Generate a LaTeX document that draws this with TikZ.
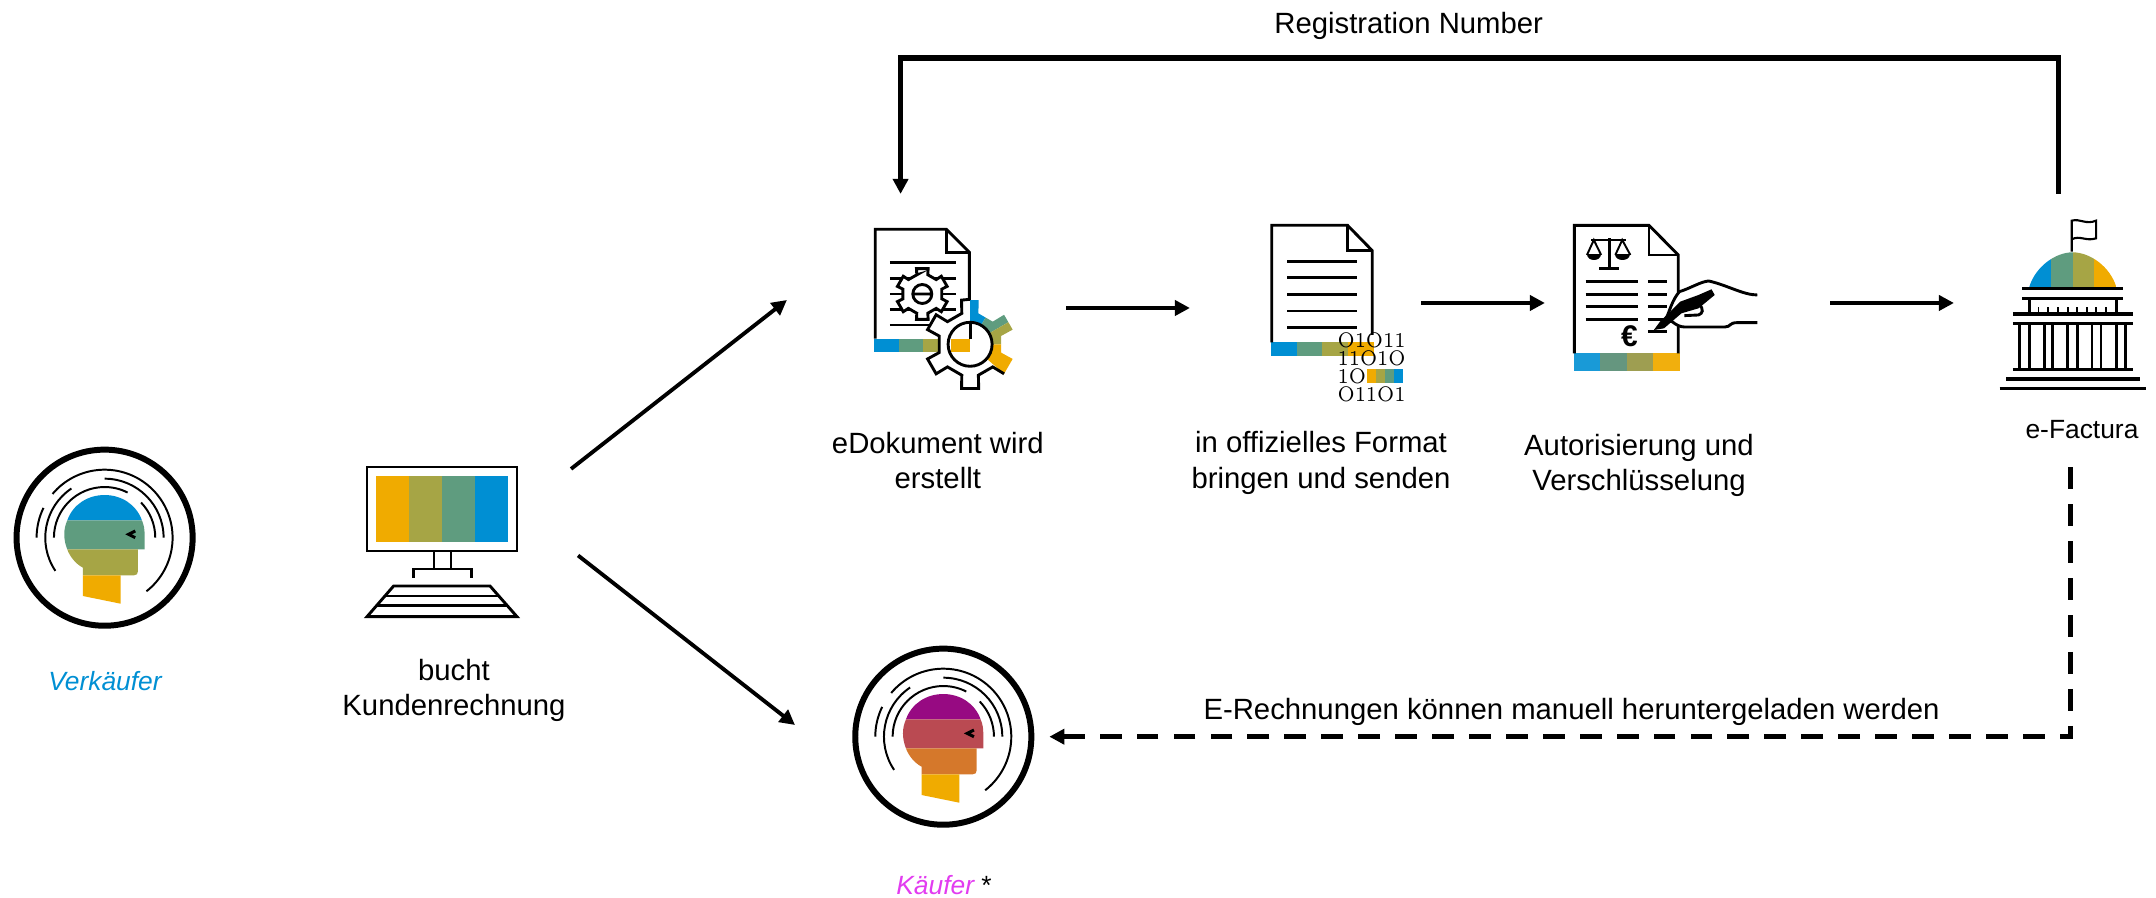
\documentclass[tikz,border=0pt]{standalone}
\usepackage{fontspec}
\setsansfont{Liberation Sans}
\usetikzlibrary{arrows.meta}
\definecolor{sapblue}{HTML}{008FD3}
\definecolor{sapgreen}{HTML}{5F9C7F}
\definecolor{sapolive}{HTML}{A6A545}
\definecolor{saporange}{HTML}{F0AB00}
\definecolor{buypurple}{HTML}{970A82}
\definecolor{buyred}{HTML}{BA4A52}
\definecolor{buyrust}{HTML}{D5782B}
\definecolor{buyerpink}{HTML}{E23CF0}
\tikzset{
    lbl/.style={font=\sffamily\fontsize{8.33}{10.1}\selectfont,align=center,inner sep=0pt},
    lblsmall/.style={font=\sffamily\fontsize{7.5}{9}\selectfont,inner sep=0pt},
    iconbox/.style={rectangle,inner sep=0pt,outer sep=0pt},
    ring/.style={circle,draw,line width=1.7pt,minimum size=1.76cm,inner sep=0pt},
    bits/.style={font=\rmfamily\fontsize{6}{6}\selectfont,inner sep=0pt,anchor=west,xscale=0.87},
    iconline/.style={line width=0.82pt},
    barline/.style={line width=0.9pt},
    flow/.style={line width=1.1pt,-{Triangle[length=4.3pt,width=4.3pt]}},
    flowthick/.style={line width=1.5pt,-{Triangle[length=4.3pt,width=4.3pt]}},
    flowdash/.style={line width=1.4pt,dash pattern=on 6.2pt off 4.3pt,-{Triangle[length=4.3pt,width=4.3pt]}},
    pics/head/.style n args={4}{code={
        \begin{scope}[scale=1/3]
            % Head in four bands
            \fill[#1] (-112,-52) .. controls (-95,-100) and (-50,-128) .. (0,-128) .. controls (50,-128) and (95,-100) .. (112,-52) -- cycle;
            \fill[#2] (-112,-52) .. controls (-118,-38) and (-121,-25) .. (-121,-10) .. controls (-121,5) and (-118,20) .. (-112,35) -- (120,35) -- (120,-10) .. controls (120,-25) and (118,-38) .. (112,-52) -- cycle;
            \fill[#3] (-112,35) .. controls (-105,55) and (-88,78) .. (-65,90) -- (-65,113) -- (88,113) .. controls (96,113) and (100,109) .. (100,101) -- (100,35) -- cycle;
            \fill[#4] (-65,113) -- (48,113) -- (48,198) -- (-65,175) -- cycle;
            \draw[line width=0.85pt] (92,-20) -- (72,-10) -- (92,0);
            % Arcs around the head
            \foreach \r/\s/\e in {152/180/297,152/316/360,178/146/236,177/270/360,204/220/412,204/180/206}
                \draw[line width=0.56pt] (\s:\r) arc[start angle=\s,end angle=\e,radius=\r];
        \end{scope}
    }}
}
\newcommand{\biggear}{(255:32) \foreach \a in {270,330,30,90,150,210} { -- (\a-15:32) -- (\a-11:45) -- (\a+11:45) -- (\a+15:32) } -- cycle}
\begin{document}
\begin{tikzpicture}[x=0.01cm,y=-0.01cm]
    \useasboundingbox (0,0) rectangle (2156,898);

    % Seller
    \node[ring] (seller) at (104.6,537.7) {};
    \pic at (seller) {head={sapblue}{sapgreen}{sapolive}{saporange}};
    \node[lblsmall,font=\sffamily\itshape\fontsize{7.5}{9}\selectfont,text=sapblue] (sellerlabel) at (105,681) {Verkäufer};

    % Monitor
    \node[iconbox,minimum width=2.07cm,minimum height=0.865cm] (monitor) at (470.5,512.2) {};
    \fill[saporange] (376.4,476) rectangle (409.3,542);
    \fill[sapolive] (409.3,476) rectangle (442,542);
    \fill[sapgreen] (442,476) rectangle (475,542);
    \fill[sapblue] (475,476) rectangle (508,542);
    \draw[iconline] (367,467) rectangle (517,551);
    \draw[iconline] (434,551) -- (434,569) (451,551) -- (451,569);
    \draw[iconline] (413.6,578) -- (413.6,569) -- (471.4,569) -- (471.4,578);
    \draw[iconline] (367,616.7) -- (393.6,586) -- (490,586) -- (517,616.7) -- cycle;
    \draw[iconline] (385,596) -- (499,596) (376,605.7) -- (508,605.7);
    \node[lbl] (bookinglabel) at (454,690.5) {bucht\\Kundenrechnung};

    % Document with gears
    \node[iconbox,minimum width=2.79cm,minimum height=2.28cm] (edoc) at (926.5,308) {};
    \fill[sapblue] (874.4,338.7) rectangle (898.5,352.3);
    \fill[sapgreen] (898.5,338.7) rectangle (922.7,352.3);
    \fill[sapolive] (922.7,338.7) rectangle (946.4,352.3);
    \draw[iconline] (875.2,338.7) -- (875.2,229.3) -- (946.4,229.3) -- (969.4,252.3) -- (969.4,300);
    \draw[iconline] (946.4,229.3) -- (946.4,252.3) -- (969.4,252.3);
    \foreach \y in {262.7,278.3,294,309.3,325}
        \draw[iconline] (889.8,\y) -- (955.6,\y);
    \begin{scope}[shift={(922.3,294)}]
        \draw[iconline,fill=white] (255:20) \foreach \a in {270,330,30,90,150,210} { -- (\a-16:20) -- (\a-13:26) -- (\a+13:26) -- (\a+16:20) } -- cycle;
        \draw[iconline] (0,0) circle (9.5) (-9.5,0) -- (9.5,0);
    \end{scope}
    \begin{scope}[shift={(970.1,344.3)}]
        \fill[white] \biggear;
        \begin{scope}
            \clip \biggear;
            \foreach \c/\s/\e in {sapblue/-90/-60,sapgreen/-60/-30,sapolive/-30/0,saporange/0/41}
                \fill[\c] (0,0) -- (\s:70) -- (\e:70) -- cycle;
        \end{scope}
        \draw[iconline] (41:45) -- (45:32) \foreach \a in {90,150,210} { -- (\a-15:32) -- (\a-11:45) -- (\a+11:45) -- (\a+15:32) } -- (255:32) -- (259:45) -- (270:45);
        \fill[white] (0,0) circle (22);
        \fill[saporange] (-19,-5.6) rectangle (0,8);
        \draw[iconline] (0,-22) -- (0,-5.6);
        \draw[iconline] (0,0) circle (22);
    \end{scope}
    \node[lbl] (edoclabel) at (937.8,460.5) {eDokument wird\\erstellt};

    % Official format
    \node[iconbox,minimum width=2.31cm,minimum height=1cm] (formatdoc) at (1305.5,308) {};
    \fill[sapblue] (1271.3,342.3) rectangle (1296.6,356.3);
    \fill[sapgreen] (1296.6,342.3) rectangle (1322.2,356.3);
    \fill[sapolive] (1322.2,342.3) rectangle (1348.2,356.3);
    \fill[saporange] (1348.2,342.3) rectangle (1373.9,356.3);
    \draw[iconline] (1271.7,342.3) -- (1271.7,225.3) -- (1347.5,225.3) -- (1372.3,250.7) -- (1372.3,335);
    \draw[iconline] (1347.5,225.3) -- (1347.5,250.7) -- (1372.3,250.7);
    \foreach \y in {261.3,277.7,294.3,311,327.3}
        \draw[iconline] (1287,\y) -- (1357.4,\y);
    \node[bits] (bitsa) at (1337,340.7) {O1O11};
    \node[bits] (bitsb) at (1337,358.3) {11O1O};
    \node[bits] (bitsc) at (1337,376.7) {1O};
    \node[bits] (bitsd) at (1337,394) {O11O1};
    \fill[saporange] (1367.4,369) rectangle (1376.2,383.3);
    \fill[sapolive] (1376.2,369) rectangle (1385,383.3);
    \fill[sapgreen] (1385,369) rectangle (1393.8,383.3);
    \fill[sapblue] (1393.8,369) rectangle (1402.6,383.3);
    \node[lbl] (formatlabel) at (1321,463) {in offizielles Format\\bringen und senden};

    % Signed document
    \node[iconbox,minimum width=2.85cm,minimum height=1cm] (signdoc) at (1687.5,303) {};
    \begin{scope}[shift={(1520,200)},xscale=0.4057,yscale=0.3333]
        \fill[sapblue!90!white] (132,460) rectangle (198,514);
        \fill[sapgreen!80!gray] (198,460) rectangle (263,514);
        \fill[sapolive!80!gray] (263,460) rectangle (329,514);
        \fill[saporange!95!white] (329,460) rectangle (395,514);
        \draw[iconline] (134,460) -- (134,76) -- (318,76) -- (390,165) -- (390,460);
        \draw[iconline] (318,76) -- (318,165) -- (390,165);
        % Scales
        \draw[iconline] (175,120) -- (262,120) (220,115) -- (220,205) (195,205) -- (243,205);
        \draw[line width=0.55pt] (165,165) -- (182,120) -- (200,165) (235,165) -- (252,120) -- (272,165);
        \fill (165,163) .. controls (165,187) and (200,187) .. (200,163) -- cycle;
        \fill (235,163) .. controls (235,187) and (272,187) .. (272,163) -- cycle;
        \foreach \y in {245,283,320,358} {
            \draw[iconline] (162,\y) -- (292,\y);
            \draw[iconline] (315,\y) -- (363,\y);
        }
        \draw[iconline] (315,395) -- (363,395);
        \node[font=\sffamily\bfseries\fontsize{8.5}{9}\selectfont,inner sep=0pt] (euro) at (270,410) {€};
        % Hand with pen
        \draw[iconline,fill=white] (585,285) .. controls (550,285) and (510,255) .. (465,243) .. controls (445,245) and (420,265) .. (393,275) .. controls (375,300) and (370,330) .. (358,362) -- (375,365) .. controls (385,375) and (395,381) .. (405,381) -- (505,381) .. controls (520,381) and (515,368) .. (535,368) -- (585,368);
        \draw[iconline] (440,310) .. controls (455,330) and (450,340) .. (440,345) -- (405,347);
        \fill (472,268) -- (480,285) -- (440,325) -- (398,340) -- (355,385) -- (330,390) -- (345,365) -- (395,305) -- (440,285) -- cycle;
    \end{scope}
    \node[lbl] (signlabel) at (1639,465.5) {Autorisierung und\\Verschlüsselung};

    % Government building
    \node[iconbox,minimum width=2.088cm,minimum height=2.735cm] (gov) at (2058.4,330.5) {};
    \begin{scope}[shift={(1520,200)},xscale=0.4057,yscale=0.3333]
        \begin{scope}
            \clip (1255,262) .. controls (1270,200) and (1320,157) .. (1362,157) .. controls (1405,157) and (1455,200) .. (1470,262) -- cycle;
            \fill[sapblue] (1255,150) rectangle (1308,262);
            \fill[sapgreen] (1308,150) rectangle (1362,262);
            \fill[sapolive] (1362,150) rectangle (1416,262);
            \fill[saporange] (1416,150) rectangle (1470,262);
        \end{scope}
        \draw[line width=0.6pt] (1360,155) -- (1360,62) .. controls (1380,55) and (1395,75) .. (1420,62) -- (1420,115) .. controls (1395,125) and (1380,105) .. (1360,118);
        \foreach \a/\b/\y in {1238/1487/266,1238/1487/295,1215/1510/342,1215/1510/371,1215/1510/508,1198/1527/537,1182/1542/566}
            \draw[barline] (\a,\y) -- (\b,\y);
        \draw[iconline] (1255,295) -- (1255,342) (1470,295) -- (1470,342);
        \foreach \x in {1278,1302,1326,1350,1373,1398,1420,1445}
            \draw[line width=0.55pt] (\x,322) -- (\x,342);
        \foreach \x in {1232,1255,1292,1312,1350,1374,1410,1432,1470,1492}
            \draw[iconline] (\x,371) -- (\x,508);
    \end{scope}
    \node[lblsmall] (govlabel) at (2082,430) {e-Factura};

    % Buyer
    \node[ring,outer sep=0.18cm] (buyer) at (943.3,736.7) {};
    \pic at (buyer) {head={buypurple}{buyred}{buyrust}{saporange}};
    \node[lblsmall,font=\sffamily\fontsize{7.5}{9}\selectfont] (buyerlabel) at (944,885.5) {\textcolor{buyerpink}{\itshape Käufer} *};
    \coordinate (buyerin) at (795,725);

    % Connectors
    \coordinate (rail) at (1480,58);
    \draw[flow] ([xshift=-0.03cm]monitor.north east) -- ([yshift=0.08cm]edoc.west);
    \draw[flow] ([xshift=0.04cm]monitor.south east) -- (buyerin);
    \draw[flow] (edoc.east) -- (formatdoc.west);
    \draw[flow] ([yshift=0.05cm]formatdoc.east) -- (signdoc.west);
    \draw[flow] (signdoc.east) -- ([yshift=0.275cm]gov.west);
    \draw[flowthick] (gov.north) |- (rail) -| ([xshift=-0.259cm]edoc.north);
    \draw[flowdash] ([xshift=0.123cm]gov.south) |- (buyer.east);

    % Connector labels
    \node[lbl] (regnumber) at (1408.7,26) {Registration Number};
    \node[lbl] (manual) at (1571.6,711.5) {E-Rechnungen können manuell heruntergeladen werden};

\end{tikzpicture}
\end{document}
